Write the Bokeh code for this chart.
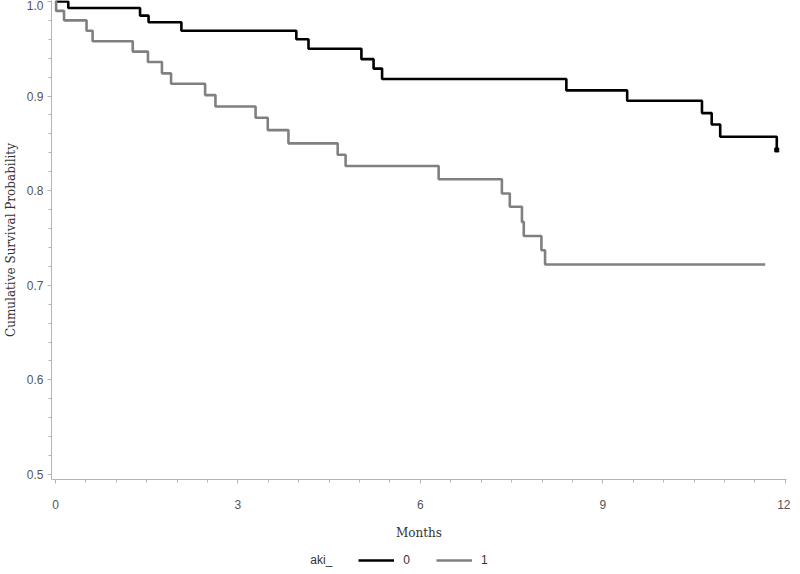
from bokeh.plotting import figure
from bokeh.layouts import column
from bokeh.models import Range1d, FixedTicker, Legend, LegendItem, PrintfTickFormatter
from bokeh.embed import file_html
from bokeh.resources import INLINE

# Kaplan-Meier step data
months_aki0 = [0, 0.21, 1.39, 1.53, 2.07, 3.96, 4.16, 5.03, 5.23, 5.37, 8.40, 9.40, 10.63, 10.79, 10.93, 11.86]
surv_aki0 = [1.0, 0.993, 0.985, 0.978, 0.969, 0.960, 0.950, 0.939, 0.929, 0.918, 0.906, 0.895, 0.882, 0.870, 0.857, 0.843]

months_aki1 = [0, 0.01, 0.14, 0.51, 0.61, 1.27, 1.52, 1.75, 1.90, 2.46, 2.63, 3.29, 3.49, 3.83, 4.64, 4.77,
               6.30, 7.34, 7.47, 7.67, 7.70, 7.99, 8.05, 11.67]
surv_aki1 = [1.0, 0.990, 0.980, 0.969, 0.958, 0.947, 0.936, 0.924, 0.913, 0.901, 0.889, 0.877, 0.864, 0.850,
             0.838, 0.826, 0.812, 0.797, 0.783, 0.767, 0.752, 0.737, 0.722, 0.722]

x_ticks = [0, 3, 6, 9, 12]
y_ticks = [0.5, 0.6, 0.7, 0.8, 0.9, 1.0]
group_labels = ["0", "1"]
group_colors = ["#000000", "#808080"]
legend_title = "aki_"

p = figure(frame_width=735, frame_height=479, output_backend="svg", toolbar_location=None,
           x_range=Range1d(-0.066, 12.02), y_range=Range1d(0.4947, 1.001),
           min_border_left=45, min_border_right=4, min_border_top=0, min_border_bottom=20)
p.outline_line_color = None
p.xgrid.visible = False
p.ygrid.visible = False
p.background_fill_color = "white"
p.border_fill_color = "white"

p.step(months_aki0, surv_aki0, mode="after", line_color=group_colors[0], line_width=2.6)
p.step(months_aki1, surv_aki1, mode="after", line_color=group_colors[1], line_width=2.6)
p.scatter([months_aki0[-1]], [surv_aki0[-1]], size=4, color=group_colors[0], marker="square")

axis_color = "#b4b4b4"
for ax in (p.xaxis[0], p.yaxis[0]):
    ax.axis_line_color = axis_color
    ax.major_tick_line_color = axis_color
    ax.minor_tick_line_color = axis_color
    ax.major_tick_in = 0
    ax.major_tick_out = 4
    ax.minor_tick_in = 0
    ax.minor_tick_out = 3
    ax.major_label_text_font = "Liberation Sans"
    ax.major_label_text_font_size = "12px"
    ax.major_label_text_color = "#555555"
    ax.axis_label_text_font = "DejaVu Serif"
    ax.axis_label_text_font_size = "12px"
    ax.axis_label_text_font_style = "normal"
    ax.axis_label_text_color = "#333333"

p.xaxis.ticker = FixedTicker(ticks=x_ticks, minor_ticks=[i * 0.5 for i in range(0, 25)])
p.yaxis.ticker = FixedTicker(ticks=y_ticks, minor_ticks=[0.5 + i * 0.02 for i in range(0, 26)])
p.yaxis.formatter = PrintfTickFormatter(format="%.1f")
p.xaxis.axis_label = "Months"
p.yaxis.axis_label = "Cumulative Survival Probability"
p.xaxis.major_label_standoff = 16
p.xaxis.axis_label_standoff = 14
p.yaxis.major_label_standoff = 4
p.yaxis.axis_label_standoff = 6

# legend strip below the chart (sample lines sit outside its visible range)
lg = figure(frame_width=735, frame_height=30, output_backend="svg", toolbar_location=None,
            x_range=Range1d(0, 1), y_range=Range1d(0, 1),
            x_axis_location=None, y_axis_location=None,
            min_border_left=45, min_border_right=4, min_border_top=0, min_border_bottom=0)
lg.outline_line_color = None
lg.xgrid.visible = False
lg.ygrid.visible = False
lg.background_fill_color = "white"
lg.border_fill_color = "white"
d_blank = lg.line([2, 3], [2, 2], line_alpha=0)
d0 = lg.line([2, 3], [2, 2], line_color=group_colors[0], line_width=2.6)
d1 = lg.line([2, 3], [2, 2], line_color=group_colors[1], line_width=2.6)

legend = Legend(items=[LegendItem(label=legend_title, renderers=[d_blank]),
                       LegendItem(label=group_labels[0], renderers=[d0]),
                       LegendItem(label=group_labels[1], renderers=[d1])],
                orientation="horizontal", location=(249, 5))
legend.border_line_color = None
legend.background_fill_alpha = 0
legend.glyph_width = 36
legend.glyph_height = 14
legend.label_height = 14
legend.label_width = 0
legend.label_standoff = 9
legend.spacing = 26
legend.label_text_font = "Liberation Sans"
legend.label_text_font_size = "12px"
legend.label_text_color = "#333333"
legend.padding = 0
legend.margin = 0
lg.add_layout(legend, "center")

layout = column(p, lg, spacing=0)
open("out.html", "w").write(file_html(layout, INLINE))
